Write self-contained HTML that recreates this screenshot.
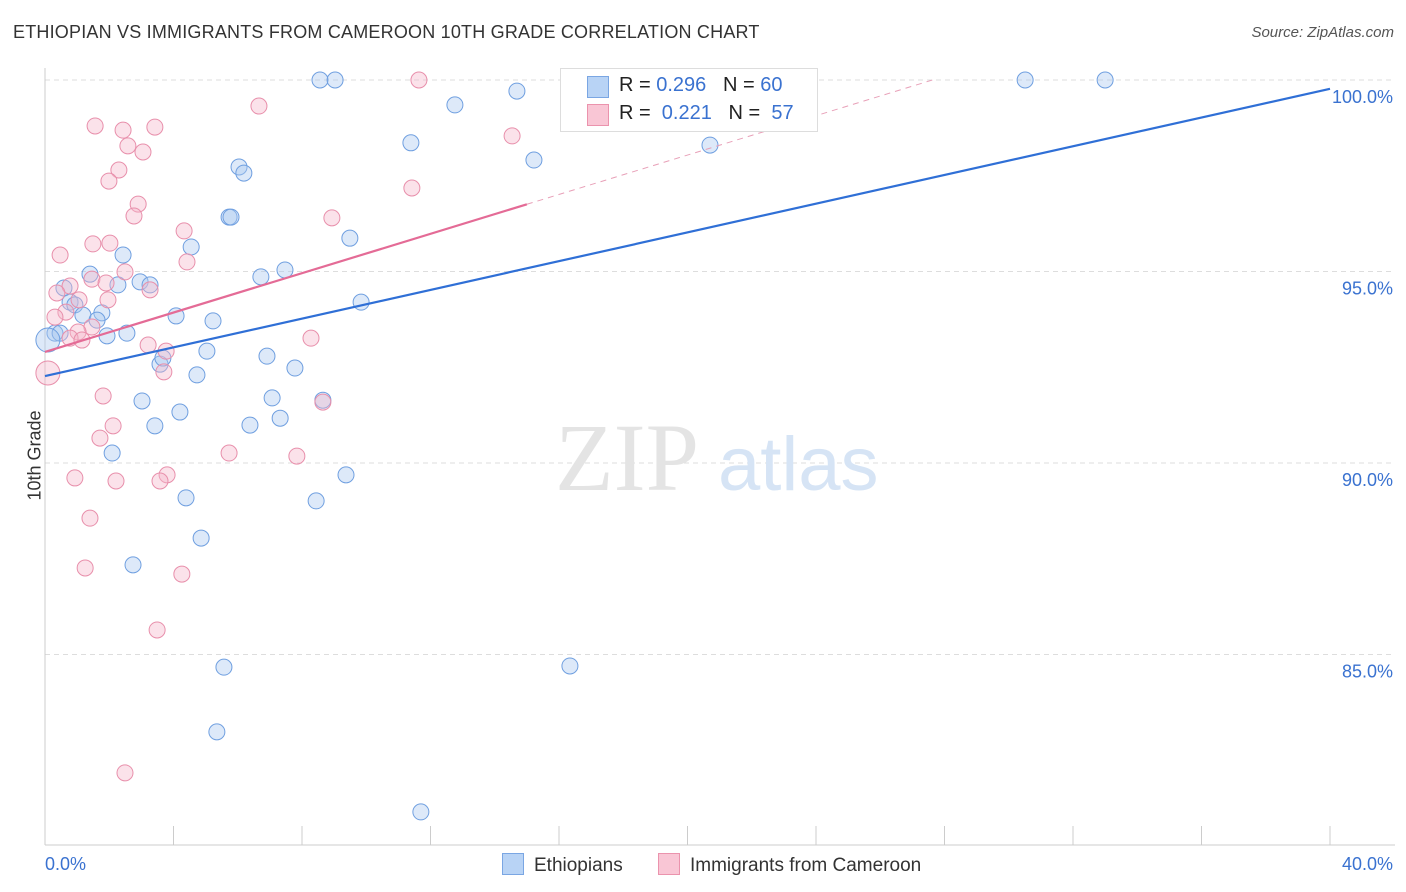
<!DOCTYPE html>
<html><head><meta charset="utf-8"><style>
body{margin:0;background:#fff;font-family:"Liberation Sans",sans-serif;}
#wrap{position:relative;width:1406px;height:892px;overflow:hidden;}
.t{position:absolute;white-space:nowrap;}
</style></head><body>
<div id="wrap">
<div class="t" style="left:13px;top:22px;font-size:18px;color:#333;letter-spacing:0.2px">ETHIOPIAN VS IMMIGRANTS FROM CAMEROON 10TH GRADE CORRELATION CHART</div>
<div class="t" style="right:12px;top:24px;font-size:15px;color:#555;font-style:italic">Source: ZipAtlas.com</div>
<div class="t" style="left:-10px;top:445px;font-size:18px;color:#333;transform:rotate(-90deg)">10th Grade</div>
<svg id="svg" width="1406" height="892" style="position:absolute;left:0;top:0"></svg>
<div style="position:absolute;left:560px;top:68px;width:256px;height:62px;border:1px solid #ddd;background:#fff;font-size:20px;color:#222">
 <div style="position:absolute;left:26px;top:7px;width:20px;height:20px;background:#b8d3f5;border:1px solid #7aa6e3"></div>
 <div class="t" style="left:58px;top:5px">R = <span style="color:#3a72d0">0.296</span>&nbsp;&nbsp;&nbsp;N = <span style="color:#3a72d0">60</span></div>
 <div style="position:absolute;left:26px;top:35px;width:20px;height:20px;background:#f9c6d5;border:1px solid #eb93ad"></div>
 <div class="t" style="left:58px;top:33px">R = &nbsp;<span style="color:#3a72d0">0.221</span>&nbsp;&nbsp;&nbsp;N = &nbsp;<span style="color:#3a72d0">57</span></div>
</div>
<div style="position:absolute;left:502px;top:853px;font-size:19px;color:#333"><span style="display:inline-block;width:20px;height:20px;background:#b8d3f5;border:1px solid #7aa6e3;vertical-align:-4px;margin-right:10px"></span>Ethiopians</div>
<div style="position:absolute;left:658px;top:853px;font-size:19px;color:#333"><span style="display:inline-block;width:20px;height:20px;background:#f9c6d5;border:1px solid #eb93ad;vertical-align:-4px;margin-right:10px"></span>Immigrants from Cameroon</div>
</div>
<script>
const yTicks=[100,95,90,85];
const xTickLabels=["0.0%","40.0%"];
const blueX=[8.56,9.03,30.51,33.0,12.76,14.69,11.39,15.22,20.70,6.04,6.19,5.73,5.79,9.49,4.55,2.43,1.40,6.72,7.47,2.96,2.27,3.27,0.59,9.84,0.78,0.93,1.77,1.18,1.62,4.08,5.23,0.31,0.47,1.93,2.55,5.04,6.91,7.78,3.58,3.67,4.73,7.07,3.02,4.20,8.65,7.32,6.38,3.42,2.09,9.37,4.39,8.44,4.86,2.74,5.57,16.34,5.35,11.70,0.09];
const blueY=[100,100,100,100,99.35,99.71,98.36,97.91,98.30,97.73,97.57,96.42,96.42,95.87,95.64,95.43,94.93,94.86,95.04,94.73,94.65,94.65,94.57,94.20,94.20,94.13,93.92,93.86,93.73,93.84,93.71,93.39,93.39,93.32,93.39,92.92,92.79,92.48,92.58,92.74,92.30,91.70,91.62,91.33,91.64,91.17,90.99,90.97,90.26,89.69,89.09,89.01,88.04,87.34,84.67,84.70,82.98,80.89,93.21];
const pinkX=[11.64,6.66,1.56,2.43,3.42,14.54,2.58,3.05,2.30,1.99,11.42,2.90,2.77,8.93,4.33,0.47,1.49,2.02,4.42,2.49,1.46,1.90,3.27,0.78,0.37,1.06,1.96,0.65,0.31,1.46,1.03,0.78,1.15,8.28,3.21,3.77,3.70,0.09,1.81,8.65,2.12,1.71,5.73,7.84,3.80,3.58,0.93,2.21,1.40,1.25,4.26,3.49,2.49];
const pinkY=[100,99.32,98.80,98.69,98.77,98.54,98.28,98.12,97.65,97.36,97.18,96.76,96.45,96.40,96.06,95.43,95.72,95.74,95.25,94.99,94.80,94.70,94.52,94.62,94.44,94.26,94.26,93.94,93.81,93.55,93.42,93.26,93.21,93.26,93.08,92.92,92.38,92.35,91.75,91.59,90.97,90.65,90.26,90.18,89.69,89.53,89.61,89.53,88.56,87.26,87.10,85.64,81.91];
const blueTrend=[92.27,99.77];
const pinkTrend=[92.90,0.257];
const sx=v=>45+v/40*1285, sy=v=>80+(100-v)/5*191.5;
const svg=document.getElementById('svg'),NS='http://www.w3.org/2000/svg';
function mk(t,a){const e=document.createElementNS(NS,t);for(const k in a)e.setAttribute(k,a[k]);svg.appendChild(e);return e;}
yTicks.forEach(v=>{
 const g=mk('line',{x1:45,x2:1395,y1:sy(v),y2:sy(v),stroke:'#ddd','stroke-dasharray':'5,4'});
 
 
 const t=mk('text',{x:1393,y:sy(v)+23,'text-anchor':'end','font-size':18,fill:'#3a72d0','font-family':'Liberation Sans'});
 t.textContent=v.toFixed(1)+'%';
 
 
});
mk('line',{x1:45,x2:45,y1:68,y2:845,stroke:'#ccc'});
mk('line',{x1:45,x2:1395,y1:845,y2:845,stroke:'#ccc'});
for(let i=0;i<=10;i++){const x=sx(i*4);const l=mk('line',{x1:x,x2:x,y1:826,y2:845,stroke:'#ccc'});
 
 }
[[0,'start',45],[40,'end',1393]].forEach((d,i)=>{const t=mk('text',{x:d[2],y:870,'text-anchor':d[1],'font-size':18,fill:'#3a72d0','font-family':'Liberation Sans'});t.textContent=xTickLabels[i];
 
 });
const w1=mk('text',{x:555,y:490,'font-size':96,fill:'#e4e4e4','font-family':'Liberation Serif'});w1.textContent='ZIP';


const w2=mk('text',{x:718,y:490,'font-size':76,fill:'#d6e4f5','font-family':'Liberation Sans'});w2.textContent='atlas';


function pts(X,Y,fill,stroke,name){X.forEach((x,i)=>{const big=x<0.2;const c=mk('circle',{cx:sx(x),cy:sy(Y[i]),r:big?12:8,fill:fill,'fill-opacity':0.4,stroke:stroke,'stroke-width':1});
 
 });}
pts(blueX,blueY,'#a9c8f0','#6f9fe0','point-ethiopian');
pts(pinkX,pinkY,'#f6b6ca','#e88fab','point-cameroon');
const bl=mk('line',{x1:sx(0),y1:sy(blueTrend[0]),x2:sx(40),y2:sy(blueTrend[1]),stroke:'#2f6fd6','stroke-width':2.2});


const pEnd=15, pDash=(100-pinkTrend[0])/pinkTrend[1];
const pl=mk('line',{x1:sx(0),y1:sy(pinkTrend[0]),x2:sx(pEnd),y2:sy(pinkTrend[0]+pinkTrend[1]*pEnd),stroke:'#e46b96','stroke-width':2.2});


const pd=mk('line',{x1:sx(pEnd),y1:sy(pinkTrend[0]+pinkTrend[1]*pEnd),x2:sx(pDash),y2:sy(100),stroke:'#e8a0b8','stroke-width':1,'stroke-dasharray':'6,5'});


</script>
</body></html>
